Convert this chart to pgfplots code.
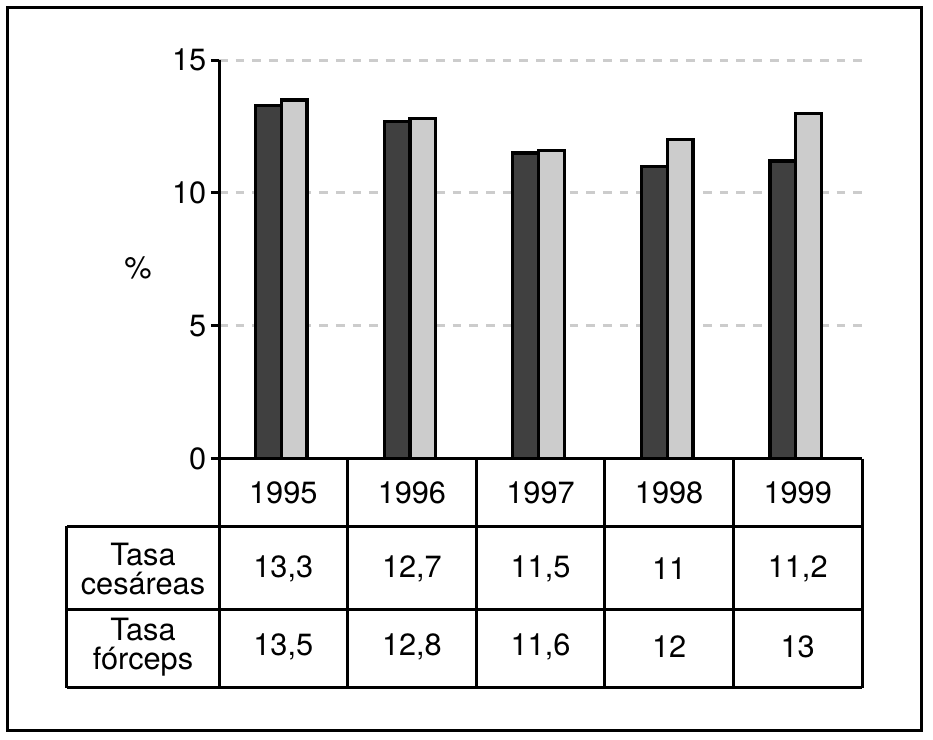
\documentclass[border=0pt]{standalone}
\usepackage{fontspec}
\setmainfont{TeX Gyre Heros}
\usepackage{pgfplots}
\pgfplotsset{compat=1.18}
\definecolor{cesarea}{HTML}{404040}
\definecolor{forceps}{HTML}{CCCCCC}
\definecolor{gridgray}{HTML}{CCCCCC}
\newcommand\tfont{\fontsize{23}{22}\selectfont}
\begin{document}
\begin{tikzpicture}[tab/.style={font=\tfont}]
\begin{axis}[
  width=481.5pt, height=298.5pt, scale only axis,
  xmin=-0.5, xmax=4.5, ymin=0, ymax=15,
  clip=false,
  axis x line=none,
  axis y line=left,
  y axis line style={-, line width=2.25pt},
  xtick=\empty,
  ytick={0,5,10,15},
  tick align=outside,
  major tick length=6pt,
  ytick style={line width=2.25pt, black},
  ymajorgrids,
  grid style={gridgray, line width=2.25pt, dash pattern=on 6.5pt off 6pt},
  /pgf/number format/assume math mode=true,
  yticklabel style={font=\tfont},
]
% Tasa cesareas
\addplot[ybar, bar width=0.2, bar shift=-0.115, fill=cesarea, draw=black, line width=2.4pt]
  coordinates {(0,13.3) (1,12.7) (2,11.5) (3,11) (4,11.2)};
% Tasa forceps
\addplot[ybar, bar width=0.2, bar shift=0.085, fill=forceps, draw=black, line width=2.4pt]
  coordinates {(0,13.5) (1,12.8) (2,11.6) (3,12) (4,13)};

% data table under the bars
\draw[line width=2.25pt] (axis cs:-0.5,0) -- (axis cs:4.5,0);
\draw[line width=2.25pt] (axis cs:-1.682,-2.544) -- (axis cs:4.5,-2.544);
\draw[line width=2.25pt] (axis cs:-1.682,-5.672) -- (axis cs:4.5,-5.672);
\draw[line width=2.25pt] (axis cs:-1.682,-8.61) -- (axis cs:4.5,-8.61);
\draw[line width=2.25pt] (axis cs:-1.682,-2.544) -- (axis cs:-1.682,-8.61);
\pgfplotsinvokeforeach{-0.5,0.5,1.5,2.5,3.5,4.5}{
  \draw[line width=2.25pt] (axis cs:#1,0) -- (axis cs:#1,-8.61);
}

\node[tab] at (axis cs:0,-1.272) {1995};
\node[tab] at (axis cs:1,-1.272) {1996};
\node[tab] at (axis cs:2,-1.272) {1997};
\node[tab] at (axis cs:3,-1.272) {1998};
\node[tab] at (axis cs:4,-1.272) {1999};

\node[tab, align=center] at (axis cs:-1.091,-4.15) {Tasa\\cesáreas};
\node[tab, align=center] at (axis cs:-1.091,-7.085) {Tasa\\fórceps};

\node[tab] at (axis cs:0,-4.15) {13,3};
\node[tab] at (axis cs:1,-4.15) {12,7};
\node[tab] at (axis cs:2,-4.15) {11,5};
\node[tab] at (axis cs:3,-4.15) {11};
\node[tab] at (axis cs:4,-4.15) {11,2};

\node[tab] at (axis cs:0,-7.085) {13,5};
\node[tab] at (axis cs:1,-7.085) {12,8};
\node[tab] at (axis cs:2,-7.085) {11,6};
\node[tab] at (axis cs:3,-7.085) {12};
\node[tab] at (axis cs:4,-7.085) {13};

\node[tab] at (axis cs:-1.13,7.16) {\%};

% outer frame and page size
\draw[line width=2.25pt] (axis cs:-2.147,-10.225) rectangle (axis cs:4.964,16.99);
\path (axis cs:-2.203,-10.554) rectangle (axis cs:5.052,17.26);
\end{axis}
\end{tikzpicture}
\end{document}
